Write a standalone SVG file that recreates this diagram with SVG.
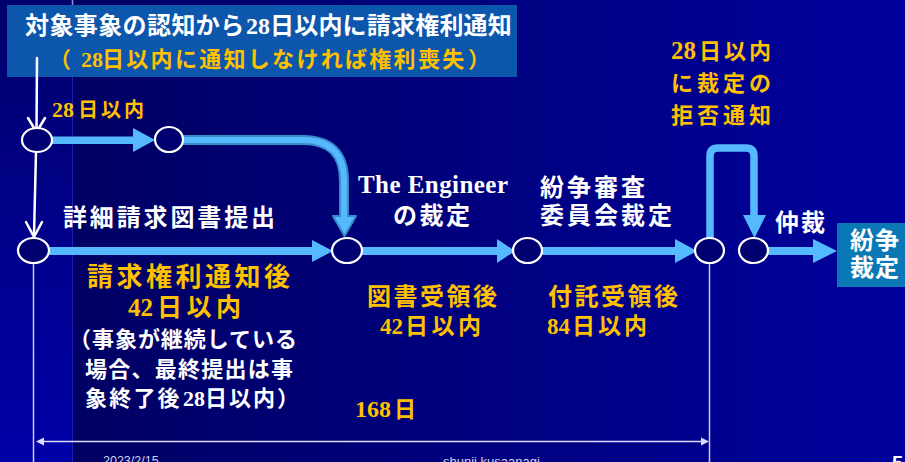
<svg xmlns="http://www.w3.org/2000/svg" width="905" height="462" viewBox="0 0 905 462">
  <defs>
    <linearGradient id="bgMain" x1="72" y1="0" x2="905" y2="0" gradientUnits="userSpaceOnUse">
      <stop offset="0" stop-color="#000064"/>
      <stop offset="1" stop-color="#00009c"/>
    </linearGradient>
    <linearGradient id="bgBand" x1="0" y1="0" x2="0" y2="462" gradientUnits="userSpaceOnUse">
      <stop offset="0" stop-color="#00006c"/>
      <stop offset="1" stop-color="#0000a8"/>
    </linearGradient>
    <style>
      .t { font-family: "Liberation Serif", "Noto Sans CJK JP", serif; font-weight: bold; }
      .w { fill: #ffffff; }
      .y { fill: #ffc000; }
      .node { fill: #000070; stroke: #ffffff; stroke-width: 2.2; }
      .flow { fill: #55b9ff; }
      .white { stroke: #ffffff; stroke-width: 2.5; fill: none; stroke-linecap: round; stroke-linejoin: round; }
      .thin { stroke: #c8c8f0; stroke-width: 1.5; fill: none; }
      .foot { font-family: "Liberation Sans", "Noto Sans", sans-serif; fill: #d0d0ec; }
    </style>
  </defs>

  <!-- background -->
  <rect x="0" y="0" width="905" height="462" fill="url(#bgMain)"/>
  <rect x="0" y="0" width="72" height="462" fill="url(#bgBand)"/>
  <line x1="72.5" y1="0" x2="72.5" y2="462" stroke="#2020b0" stroke-width="1"/>
  <line x1="72.5" y1="0" x2="72.5" y2="6" stroke="#9090d8" stroke-width="1.5"/>

  <!-- title box -->
  <g id="title">
    <rect x="7" y="5" width="510" height="72" fill="#0c56ab"/>
    <text class="t w" y="34" font-size="24"><tspan x="25" letter-spacing="0.4">対象事象の認知から</tspan><tspan x="246">28</tspan><tspan x="270" letter-spacing="0.2">日以内に請求権利通知</tspan></text>
    <text class="t y" y="67" font-size="22"><tspan x="49">（</tspan><tspan x="81">28</tspan><tspan x="102" letter-spacing="2.3">日以内に通知しなければ権利喪失</tspan><tspan x="468">）</tspan></text>
  </g>

  <!-- connectors -->
  <g id="connectors">
    <line class="white" x1="37" y1="58" x2="36.5" y2="130"/>
    <polyline class="white" points="28,118 36.5,132 45,118"/>
    <line class="white" x1="36" y1="152" x2="34" y2="235"/>
    <polyline class="white" points="26,222 34,237 42,222"/>

    <line class="thin" x1="33.5" y1="263" x2="33.5" y2="462"/>
    <line class="thin" x1="709.5" y1="263" x2="709.5" y2="462"/>

    <line x1="42" y1="441.5" x2="703" y2="441.5" stroke="#dcdcff" stroke-width="1.5"/>
    <polygon points="36,441.5 44,437.5 44,445.5" fill="#dcdcff"/>
    <polygon points="709,441.5 701,437.5 701,445.5" fill="#dcdcff"/>

    <rect class="flow" x="51" y="136.5" width="84" height="7.5"/>
    <polygon class="flow" points="133,128 155,140 133,152"/>

    <path d="M183,140 H303 Q344,140 344,181 V219" fill="none" stroke="#3a8cc8" stroke-width="10"/>
    <polygon points="333,216 356,216 344.5,236" fill="#55b9ff" stroke="#3a8cc8" stroke-width="2" stroke-linejoin="round"/>
    <path d="M183,140 H303 Q344,140 344,181 V219" fill="none" stroke="#55b9ff" stroke-width="6"/>

    <rect class="flow" x="49" y="247" width="265" height="8"/>
    <polygon class="flow" points="312,240 333,251 312,262"/>
    <rect class="flow" x="362" y="247" width="137" height="8"/>
    <polygon class="flow" points="497,239 515,251 497,263"/>
    <rect class="flow" x="542" y="247" width="135" height="8"/>
    <polygon class="flow" points="675,239 697,251 675,263"/>
    <rect class="flow" x="768" y="247" width="47" height="8"/>
    <polygon class="flow" points="813,239 837,251 813,263"/>

    <path d="M710,238 V156 Q710,148 718,148 H746 Q754,148 754,156 V217" fill="none" stroke="#55b9ff" stroke-width="7.5"/>
    <polygon class="flow" points="743,215 766,215 754.5,238"/>
  </g>

  <!-- nodes -->
  <g id="n-notice"><ellipse class="node" cx="37" cy="140" rx="15" ry="12"/></g>
  <g id="n-28days"><ellipse class="node" cx="169" cy="139.5" rx="14" ry="12.5"/></g>
  <g id="n-detail"><ellipse class="node" cx="33.5" cy="250.5" rx="15.5" ry="12.5"/></g>
  <g id="n-engineer"><ellipse class="node" cx="347" cy="250.5" rx="15" ry="12.5"/></g>
  <g id="n-dab"><ellipse class="node" cx="527.5" cy="250.5" rx="14.5" ry="12.5"/></g>
  <g id="n-reject"><ellipse class="node" cx="709.5" cy="250.5" rx="14.5" ry="12.5"/></g>
  <g id="n-arbitration"><ellipse class="node" cx="753.5" cy="250.5" rx="14.5" ry="12.5"/></g>
  <g id="n-award">
    <rect x="837" y="223" width="68" height="64" fill="#0a78b4"/>
    <text class="t w" x="850" y="249" font-size="24" letter-spacing="1">紛争</text>
    <text class="t w" x="850" y="276" font-size="24" letter-spacing="1">裁定</text>
  </g>

  <!-- labels -->
  <g id="labels">
    <text class="t y" y="117" font-size="20"><tspan x="52" font-size="22">28</tspan><tspan x="78" letter-spacing="3">日以内</tspan></text>
    <text class="t w" x="63" y="226" font-size="24" textLength="212" lengthAdjust="spacing">詳細請求図書提出</text>

    <text class="t w" x="358" y="193" font-size="25" textLength="150" lengthAdjust="spacing">The Engineer</text>
    <text class="t w" x="393" y="224" font-size="24" textLength="77" lengthAdjust="spacing">の裁定</text>

    <text class="t w" x="540" y="196" font-size="24" textLength="105" lengthAdjust="spacing">紛争審査</text>
    <text class="t w" x="540" y="224" font-size="24" textLength="132" lengthAdjust="spacing">委員会裁定</text>

    <text class="t y" x="367" y="305" font-size="24" textLength="130" lengthAdjust="spacing">図書受領後</text>
    <text class="t y" y="334" font-size="23"><tspan x="380">42</tspan><tspan x="405" letter-spacing="3.5">日以内</tspan></text>
    <text class="t y" x="548" y="305" font-size="24" textLength="130" lengthAdjust="spacing">付託受領後</text>
    <text class="t y" y="334" font-size="23"><tspan x="547">84</tspan><tspan x="572" letter-spacing="3">日以内</tspan></text>

    <text class="t y" x="87" y="286" font-size="26" textLength="203" lengthAdjust="spacing">請求権利通知後</text>
    <text class="t y" y="316" font-size="25"><tspan x="128">42</tspan><tspan x="157" letter-spacing="4.5">日以内</tspan></text>
    <text class="t w" x="69" y="347" font-size="22" textLength="228" lengthAdjust="spacing">（事象が継続している</text>
    <text class="t w" x="85" y="377" font-size="22" textLength="208" lengthAdjust="spacing">場合、最終提出は事</text>
    <text class="t w" y="406" font-size="22"><tspan x="85" letter-spacing="2.2">象終了後</tspan><tspan x="183">28</tspan><tspan x="205" letter-spacing="2">日以内</tspan><tspan x="277">）</tspan></text>

    <text class="t y" y="417"><tspan x="355" font-size="24">168</tspan><tspan x="394" font-size="22">日</tspan></text>

    <text class="t y" y="59" font-size="22"><tspan x="671" font-size="25">28</tspan><tspan x="699" letter-spacing="3">日以内</tspan></text>
    <text class="t y" x="671" y="91" font-size="22" letter-spacing="4">に裁定の</text>
    <text class="t y" x="671" y="123" font-size="22" letter-spacing="4">拒否通知</text>

    <text class="t w" x="775" y="231" font-size="24" letter-spacing="2">仲裁</text>
  </g>

  <!-- footer -->
  <g id="footer">
    <text class="foot" x="103" y="465" font-size="12.5">2023/2/15</text>
    <text class="foot" x="443" y="466" font-size="13">shunji kusaanagi</text>
    <text x="892" y="470" font-size="20" font-weight="bold" font-family="Liberation Sans, sans-serif" fill="#ffffff">5</text>
  </g>
</svg>
